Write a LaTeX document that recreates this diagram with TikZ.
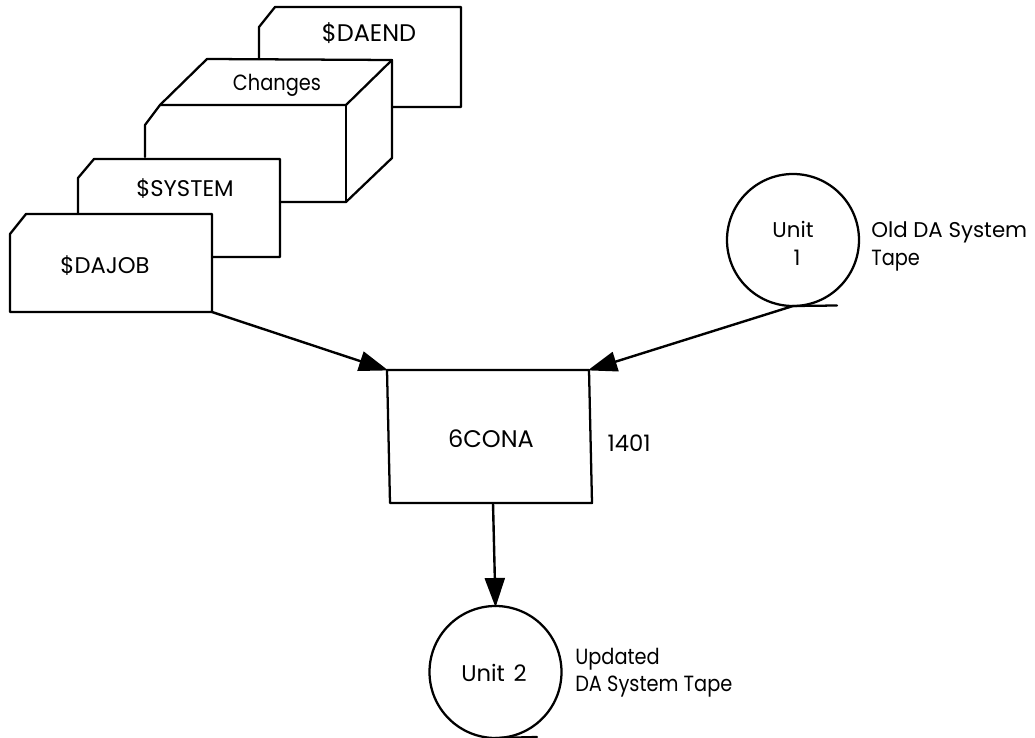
\documentclass[tikz,border=0pt]{standalone}
\usepackage{fontspec}
\setmainfont{Poppins}
\newfontfamily\narrowface[FakeStretch=0.88]{Poppins}
\usetikzlibrary{arrows.meta}
\tikzset{
  px/.style={x=0.75pt,y=-0.75pt},
  outline/.style={line width=1.7pt,line join=round,line cap=round},
  flow/.style={line width=1.8pt,-{Triangle[length=22pt,width=15pt]},shorten >=-1pt},
  lbl/.style={inner sep=0pt,anchor=base,font=\narrowface\fontsize{16.5}{18}\selectfont},
  lblw/.style={inner sep=0pt,anchor=base west,font=\narrowface\fontsize{16.5}{18}\selectfont},
  caps/.style={font=\fontsize{17}{19}\selectfont},
  bigcaps/.style={font=\fontsize{18}{20}\selectfont},
  mid/.style={font=\fontsize{16}{18}\selectfont},
  tape/.style={circle,draw,line width=1.7pt,minimum size=99pt,inner sep=0pt,outer sep=0pt}
}
\begin{document}
\begin{tikzpicture}[px]
\useasboundingbox (0,0) rectangle (1035,738);
% cards
\draw[outline] (259,59) -- (259,27) -- (275,7) -- (461,7) -- (461,107) -- (392,107);
\draw[outline] (145,157) -- (145,125) -- (160,105) -- (207,59) -- (392,60) -- (392,158) -- (346,202) -- (280,202);
\draw[outline] (160,105) -- (346,105) -- (392,60);
\draw[outline] (346,105) -- (346,202);
\draw[outline] (78,213) -- (78,178) -- (94,159) -- (280,159) -- (280,257) -- (212,257);
\draw[outline] (10,234) -- (26,214) -- (212,214) -- (212,312) -- (10,312) -- cycle;
\coordinate (jobcorner) at (212,312);
\node[lbl,bigcaps] (daend) at (369,42) {\$DAEND};
\node[lbl] (changes) at (277,91) {Changes};
\node[lbl,caps] (system) at (185,196) {\$SYSTEM};
\node[lbl,caps] (dajob) at (105,273) {\$DAJOB};
% process
\coordinate (ptl) at (387,370);
\coordinate (ptr) at (589,370);
\coordinate (pbr) at (592,503);
\coordinate (pbl) at (390,503);
\coordinate (pout) at (493,503);
\draw[outline] (ptl) -- (ptr) -- (pbr) -- (pbl) -- cycle;
\node[lbl,bigcaps] (conalbl) at (491,447) {6CONA};
\node[lbl,caps] (cpu) at (629,451) {1401};
% tapes
\node[tape] (u1) at (793,240) {};
\coordinate (u1tail) at (837,305.5);
\draw[outline] (u1.south) -- (u1tail);
\node[lbl,mid] (u1a) at (793,238) {Unit};
\node[lbl,mid] (u1b) at (797,265) {1};
\node[lblw,mid] (old1) at (871,238) {Old DA System};
\node[lblw] (old2) at (871,265) {Tape};
\node[tape] (u2) at (495.5,672) {};
\coordinate (u2tail) at (537,737);
\draw[outline] (u2.south) -- (u2tail);
\node[lbl,caps] (u2a) at (494,681) {Unit\hspace{2pt} 2};
\node[lblw] (upd1) at (575,664) {Updated};
\node[lblw] (upd2) at (575,691) {DA System Tape};
% connectors
\draw[flow] (jobcorner) -- (ptl);
\draw[flow] (u1.south) -- (ptr);
\draw[flow] (pout) -- (u2.north);
\end{tikzpicture}
\end{document}
